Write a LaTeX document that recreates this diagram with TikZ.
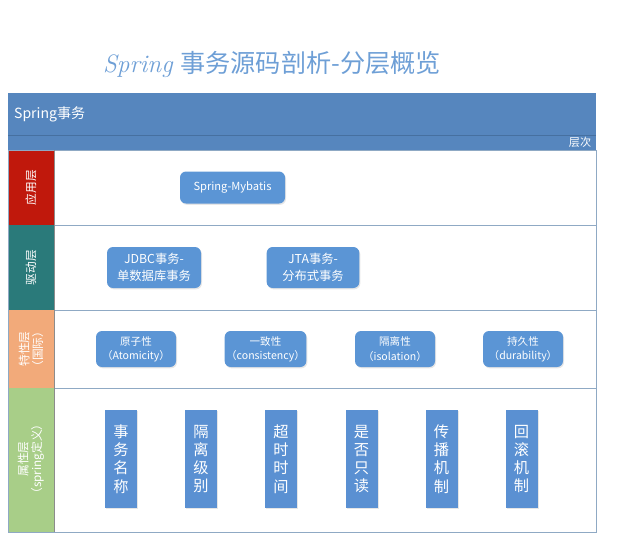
\documentclass[tikz,border=0pt]{standalone}
\usepackage{fontspec}
\newfontfamily\cjk{Noto Sans CJK SC}
\usetikzlibrary{shadows}
\definecolor{hdblue}{RGB}{86,134,190}
\definecolor{hdline}{RGB}{70,112,160}
\definecolor{boxblue}{RGB}{91,149,213}
\definecolor{barblue}{RGB}{90,144,210}
\definecolor{frameln}{RGB}{143,169,196}
\definecolor{lyred}{RGB}{192,24,12}
\definecolor{lyteal}{RGB}{42,122,122}
\definecolor{lyorange}{RGB}{242,170,122}
\definecolor{lygreen}{RGB}{168,206,136}
\definecolor{ttlblue}{RGB}{110,159,214}

\begin{document}
\begin{tikzpicture}[font=\cjk,
  box/.style={fill=boxblue,rounded corners=0.18cm,text=white,align=center,inner sep=0pt,
    drop shadow={opacity=0.2,shadow xshift=0.03cm,shadow yshift=-0.04cm}},
  bar/.style={fill=barblue,text=white,align=center,inner sep=0pt,minimum width=0.96cm,minimum height=2.94cm,
    font=\cjk\fontsize{13}{15.5}\selectfont,drop shadow={opacity=0.2,shadow xshift=0.03cm,shadow yshift=-0.04cm}},
  layer/.style={text=white,rotate=90,align=center,font=\cjk\fontsize{10}{11.5}\selectfont}]
\useasboundingbox (0,0) rectangle (18.51,-16.41);
% title
\node[text=ttlblue,font=\fontsize{21.5}{26}\selectfont] (title) at (8.16,-1.92) {{\itshape Spring} {\cjk 事务源码剖析-分层概览}};
% header
\fill[hdblue] (0.24,-2.79) rectangle (17.88,-4.50);
\draw[hdline] (0.24,-4.05) -- (17.88,-4.05);
\node[text=white,anchor=west,font=\cjk\fontsize{12}{14}\selectfont] (head) at (0.30,-3.42) {Spring事务};
\node[text=white,anchor=east,font=\cjk\fontsize{9.5}{11}\selectfont] (level) at (17.86,-4.28) {层次};
% layers
\fill[lyred] (0.24,-4.50) rectangle (1.62,-6.75);
\fill[lyteal] (0.24,-6.75) rectangle (1.62,-9.30);
\fill[lyorange] (0.24,-9.30) rectangle (1.62,-11.64);
\fill[lygreen] (0.24,-11.64) rectangle (1.62,-15.96);
\draw[frameln] (0.24,-4.50) rectangle (17.88,-15.96);
\draw[frameln] (1.62,-6.75) -- (17.88,-6.75);
\draw[frameln] (1.62,-9.30) -- (17.88,-9.30);
\draw[frameln] (1.62,-11.64) -- (17.88,-11.64);
\draw[black!45] (1.62,-4.50) -- (1.62,-15.96);
\node[layer] (l1) at (0.93,-5.625) {应用层};
\node[layer] (l2) at (0.93,-8.025) {驱动层};
\node[layer] (l3) at (0.93,-10.47) {特性层\\（国际）};
\node[layer] (l4) at (0.93,-13.77) {属性层\\（spring定义）};
% application
\node[box,minimum width=3.15cm,minimum height=0.96cm,font=\cjk\fontsize{9.5}{12}\selectfont] (sm) at (6.975,-5.625) {Spring-Mybatis};
% driver
\node[box,minimum width=2.82cm,minimum height=1.23cm,font=\cjk\fontsize{10.5}{14}\selectfont] (jdbc) at (4.62,-8.025) {JDBC事务-\\单数据库事务};
\node[box,minimum width=2.78cm,minimum height=1.23cm,font=\cjk\fontsize{10.5}{14}\selectfont] (jta) at (9.39,-8.025) {JTA事务-\\分布式事务};
% features
\node[box,minimum width=2.40cm,minimum height=1.08cm,font=\cjk\fontsize{9}{12}\selectfont] (atom) at (4.08,-10.47) {原子性\\（Atomicity）};
\node[box,minimum width=2.45cm,minimum height=1.08cm,font=\cjk\fontsize{9}{12}\selectfont] (cons) at (7.965,-10.47) {一致性\\（consistency）};
\node[box,minimum width=2.40cm,minimum height=1.08cm,font=\cjk\fontsize{9}{12}\selectfont] (isol) at (11.85,-10.47) {隔离性\\（isolation）};
\node[box,minimum width=2.40cm,minimum height=1.08cm,font=\cjk\fontsize{9}{12}\selectfont] (dura) at (15.69,-10.47) {持久性\\（durability）};
% attributes
\node[bar] (name) at (3.63,-13.77) {事\\务\\名\\称};
\node[bar] (iso) at (6.03,-13.77) {隔\\离\\级\\别};
\node[bar] (tmo) at (8.43,-13.77) {超\\时\\时\\间};
\node[bar] (ro) at (10.845,-13.77) {是\\否\\只\\读};
\node[bar] (prop) at (13.245,-13.77) {传\\播\\机\\制};
\node[bar] (rb) at (15.645,-13.77) {回\\滚\\机\\制};
\end{tikzpicture}
\end{document}
